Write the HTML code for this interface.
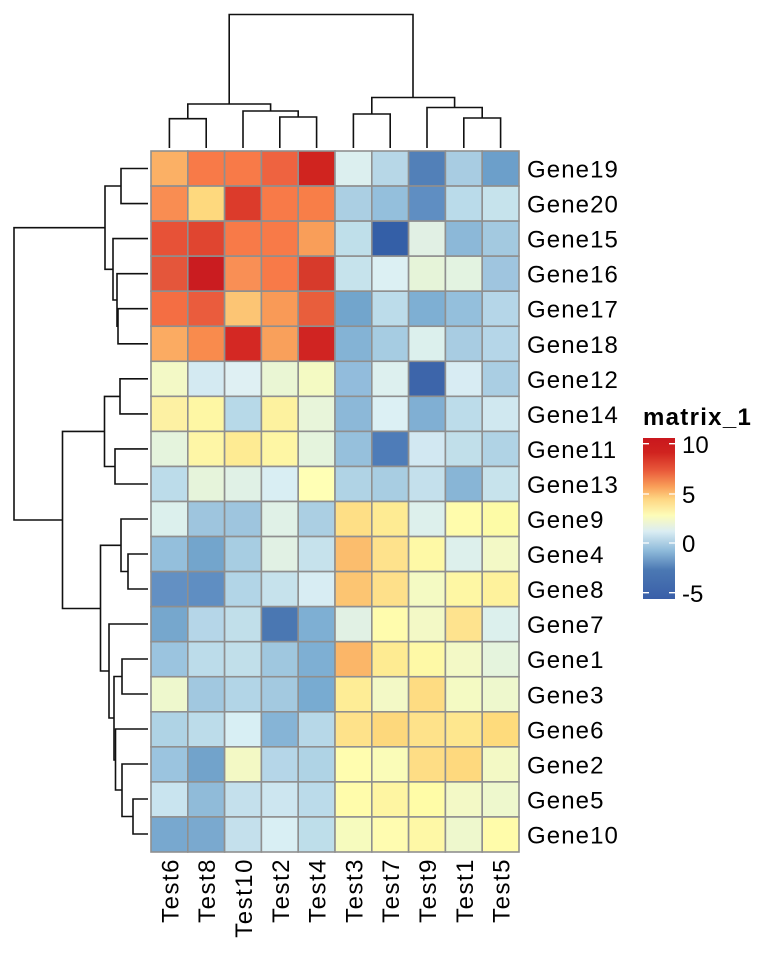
<!DOCTYPE html>
<html><head><meta charset="utf-8"><style>
body{margin:0;background:#fff;}
svg text{font-family:"Liberation Sans",Arial,sans-serif;}
</style></head><body>
<svg width="768" height="960" viewBox="0 0 768 960" xmlns="http://www.w3.org/2000/svg">
<defs>
<linearGradient id="lg" x1="0" y1="0" x2="0" y2="1">
<stop offset="0" stop-color="#c9171e"/>
<stop offset="0.09" stop-color="#d0231f"/>
<stop offset="0.2" stop-color="#e8583a"/>
<stop offset="0.3" stop-color="#f99d58"/>
<stop offset="0.38" stop-color="#fed683"/>
<stop offset="0.48" stop-color="#fdfcb8"/>
<stop offset="0.58" stop-color="#dbedf3"/>
<stop offset="0.7" stop-color="#8ebada"/>
<stop offset="0.82" stop-color="#4b78b3"/>
<stop offset="1" stop-color="#3a5fa8"/>
</linearGradient>
</defs>
<g id="cells" stroke="#8f8f8f" stroke-width="1.6"></g>
<g fill="none" stroke="#111" stroke-width="1.6">
<path d="M169.4 148V118.7H206.2V148"/>
<path d="M279.8 148V117H316.6V148"/>
<path d="M243 148V111H298.2V117"/>
<path d="M187.8 118.7V104H270.6V111"/>
<path d="M229.2 104V14.5H413V97.5"/>
<path d="M353.4 148V114H390.2V148"/>
<path d="M463.8 148V118H500.6V148"/>
<path d="M427 148V107.5H482.2V118"/>
<path d="M371.8 114V97.5H454.6V107.5"/>
<path d="M148 168.5H121V203.6H148"/>
<path d="M148 308.7H118V343.8H148"/>
<path d="M148 273.7H117V326.2H118"/>
<path d="M148 238.6H113V300H117"/>
<path d="M121 186H105V269.3H113"/>
<path d="M105 227.7H14V520H62.5"/>
<path d="M148 378.8H120V413.9H148"/>
<path d="M148 448.9H115V484H148"/>
<path d="M120 396.4H104.5V466.5H115"/>
<path d="M104.5 431.4H62.5V608.5H100.5"/>
<path d="M148 554H128V589H148"/>
<path d="M148 519H121V571.5H128"/>
<path d="M148 659H122V694H148"/>
<path d="M148 799H133V834H148"/>
<path d="M148 764H122V816.5H133"/>
<path d="M148 729H115.5V790H122"/>
<path d="M122 676.5H114V760H115.5"/>
<path d="M148 624H109V718H114"/>
<path d="M121 545.3H100.5V671H109"/>
</g>
<g id="rl" font-size="24" letter-spacing="1.1" fill="#000"></g>
<g id="cl" font-size="24" letter-spacing="1.5" fill="#000"></g>
<text x="643" y="425" font-size="24" letter-spacing="1.3" font-weight="bold">matrix_1</text>
<rect x="643" y="438" width="32" height="161" fill="url(#lg)"/>
<g stroke="#fff" stroke-width="1.3">
<path d="M643 443.7h6M669 443.7h6M643 494h6M669 494h6M643 543h6M669 543h6M643 592.7h6M669 592.7h6"/>
</g>
<g font-size="24">
<text x="682" y="453">10</text>
<text x="682" y="503">5</text>
<text x="682" y="552">0</text>
<text x="682" y="602">-5</text>
</g>
</svg>
<script>
var M=[
["#fbb065","#f87a48","#f87a48","#ee6340","#d0241f","#dcefef","#b7d7e7","#5280b8","#a8cce2","#6c9fca"],
["#f98d52","#fed97e","#dc3b2b","#f87a48","#f87e48","#abcfe3","#94bfdc","#5f8ec2","#badbea","#c6e3ec"],
["#e75237","#e04530","#f87a48","#f87a48","#f99e59","#bfdfea","#345fa7","#e1f0e4","#8cb8d8","#a3c9e0"],
["#e4563b","#ca1c20","#f98f55","#f87a48","#d73a2b","#c6e3ec","#dcf0f3","#e6f4d9","#e3f3e1","#9fc5df"],
["#f46e43","#ea5c3d","#fcc574","#f99a57","#e85e3c","#72a5cc","#bcdcea","#7eafd3","#94bfdc","#b5d6e8"],
["#fbab62","#f98b4d","#d42823","#f9a05b","#d02422","#84b3d5","#a6cce2","#dcf0ed","#a8cce2","#b5d6e8"],
["#f3f9c6","#d4eaf2","#dff0f3","#eaf6d4","#f4fac3","#92bcdc","#ddf0ef","#3d65aa","#d8ecf3","#aacee3"],
["#fdf1a3","#fef7a4","#b7d9e8","#fdf29f","#e8f5da","#8cb8d8","#dcf0f4","#80afd3","#bcdcea","#d0e8f0"],
["#e5f4dd","#fef6a6","#feeb93","#fef6a4","#e5f4dd","#96c0dc","#4e7cb8","#d2e8f2","#c1dfea","#b0d3e5"],
["#bcdcea","#e6f4db","#e0f1e6","#d9eef3","#ffffb5","#b0d3e5","#a8cde2","#c4e0ec","#88b5d6","#c7e3ec"],
["#dcf0ed","#9ec5de","#9ec5de","#e0f1e7","#abcfe3","#fedf86","#feeb93","#ddf0ec","#fffcac","#fdfba6"],
["#94bfdc","#73a5cc","#a7cde2","#e1f1e4","#c6e2ec","#fbbd6d","#fee28c","#fef9a6","#ddf0ec","#f3f9c6"],
["#6390c3","#5f8ec2","#b2d5e7","#c6e2ec","#d8edf3","#fcc572","#fee08a","#f4fac3","#fef7a4","#fef29c"],
["#76a7cd","#b5d6e8","#c1dfea","#4a77b2","#7eafd3","#e1f1e4","#fffcad","#f3f9c6","#fee38e","#dcf0ed"],
["#9bc4df","#bcdcea","#c1dfea","#9fc7df","#7eafd3","#fbb668","#feeb92","#fef9a6","#f3f9c6","#e5f4dd"],
["#eef8cd","#a1c8e0","#b2d5e7","#a3c9e0","#78abd1","#feed96","#f3f9c6","#fedc82","#f4fac3","#eef8cd"],
["#afd3e5","#bcdcea","#d8eff4","#86b4d6","#b7d8e8","#fee28a","#fdd87c","#fee28a","#fee78e","#fedb7c"],
["#9bc4df","#72a3cb","#f3f9c5","#b5d6e8","#afd3e5","#fffdaf","#fafcb8","#fedd85","#fed97e","#f3f9c5"],
["#c9e4ef","#90bbd9","#c4e0ec","#cde6f0","#bbdbea","#fffcab","#fef5a2","#fffca7","#f3f9c6","#eef8cd"],
["#78a8cf","#7aa9cf","#c4e0ec","#d9eff4","#bedeea","#f6fbbe","#fffcb0","#fef8a6","#eef8cd","#fffcaa"]];
var rows=["Gene19","Gene20","Gene15","Gene16","Gene17","Gene18","Gene12","Gene14","Gene11","Gene13","Gene9","Gene4","Gene8","Gene7","Gene1","Gene3","Gene6","Gene2","Gene5","Gene10"];
var cols=["Test6","Test8","Test10","Test2","Test4","Test3","Test7","Test9","Test1","Test5"];
var NS="http://www.w3.org/2000/svg",x0=151,y0=151,cw=36.8,rh=35.05;
var g=document.getElementById("cells");
for(var i=0;i<20;i++)for(var j=0;j<10;j++){var r=document.createElementNS(NS,"rect");
r.setAttribute("x",x0+j*cw);r.setAttribute("y",y0+i*rh);r.setAttribute("width",cw);r.setAttribute("height",rh);r.setAttribute("fill",M[i][j]);g.appendChild(r);}
var rl=document.getElementById("rl");
rows.forEach(function(n,i){var t=document.createElementNS(NS,"text");t.setAttribute("x",527);t.setAttribute("y",y0+(i+0.5)*rh+9);t.textContent=n;rl.appendChild(t);});
var cl=document.getElementById("cl");
cols.forEach(function(n,j){var t=document.createElementNS(NS,"text");var cx=x0+(j+0.5)*cw+9;t.setAttribute("transform","translate("+cx+",858) rotate(-90)");t.setAttribute("text-anchor","end");t.textContent=n;cl.appendChild(t);});
</script>
</body></html>
